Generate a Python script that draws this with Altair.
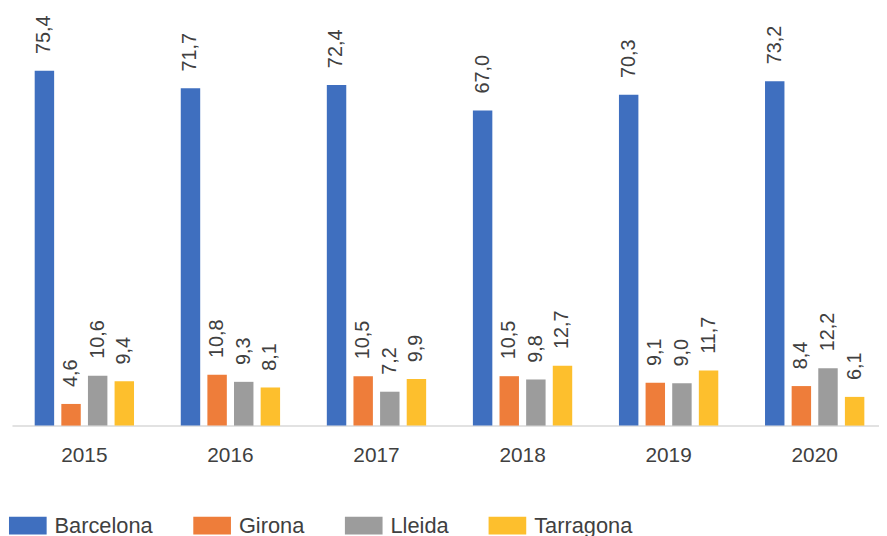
import altair as alt
import pandas as pd

years = ["2015", "2016", "2017", "2018", "2019", "2020"]
cities = ["Barcelona", "Girona", "Lleida", "Tarragona"]
barcelona = [75.4, 71.7, 72.4, 67.0, 70.3, 73.2]
girona = [4.6, 10.8, 10.5, 10.5, 9.1, 8.4]
lleida = [10.6, 9.3, 7.2, 9.8, 9.0, 12.2]
tarragona = [9.4, 8.1, 9.9, 12.7, 11.7, 6.1]
colors = ["#3F6FBF", "#EE7D3A", "#9C9C9C", "#FDBF2D"]

series = {"Barcelona": barcelona, "Girona": girona, "Lleida": lleida, "Tarragona": tarragona}
rows = []
for c in cities:
    for y, v in zip(years, series[c]):
        rows.append({"year": y, "city": c, "value": v, "label": f"{v:.1f}".replace(".", ",")})
df = pd.DataFrame(rows)

FONT = "Liberation Sans"
TXT = "#404040"

base = alt.Chart(df).encode(
    x=alt.X("year:N", sort=years,
            scale=alt.Scale(paddingInner=0.32, paddingOuter=0.128, align=0.608),
            axis=alt.Axis(title=None, labelAngle=0, ticks=False, grid=False,
                          domainColor="#D9D9D9", domainWidth=1.5,
                          labelFont=FONT, labelFontSize=21, labelColor=TXT,
                          labelPadding=19)),
    xOffset=alt.XOffset("city:N", sort=cities,
                        scale=alt.Scale(paddingInner=0.27, paddingOuter=0)),
    y=alt.Y("value:Q", scale=alt.Scale(domain=[0, 88.25], nice=False), axis=None),
)

bars = base.mark_bar().encode(
    color=alt.Color("city:N", sort=cities,
                    scale=alt.Scale(domain=cities, range=colors),
                    legend=alt.Legend(orient="none", legendX=-3, legendY=501,
                                      direction="horizontal", columns=4, title=None,
                                      symbolType="M-1,-0.47H1V0.47H-1Z", symbolSize=1444,
                                      symbolStrokeWidth=0, symbolOpacity=1,
                                      labelFont=FONT, labelFontSize=22, labelColor=TXT,
                                      labelOffset=8, columnPadding=40))
)

labels = base.mark_text(angle=270, align="left", baseline="middle", dx=17,
                        font=FONT, fontSize=20, color=TXT).encode(text="label:N")

chart = (bars + labels).properties(
    width=875, height=419,
    autosize=alt.AutoSizeParams(type="none"),
    padding={"left": 4, "right": 0, "top": 0, "bottom": 109},
).configure_view(stroke=None)

chart.save("out.html", embed_options={"renderer": "svg", "actions": False})
